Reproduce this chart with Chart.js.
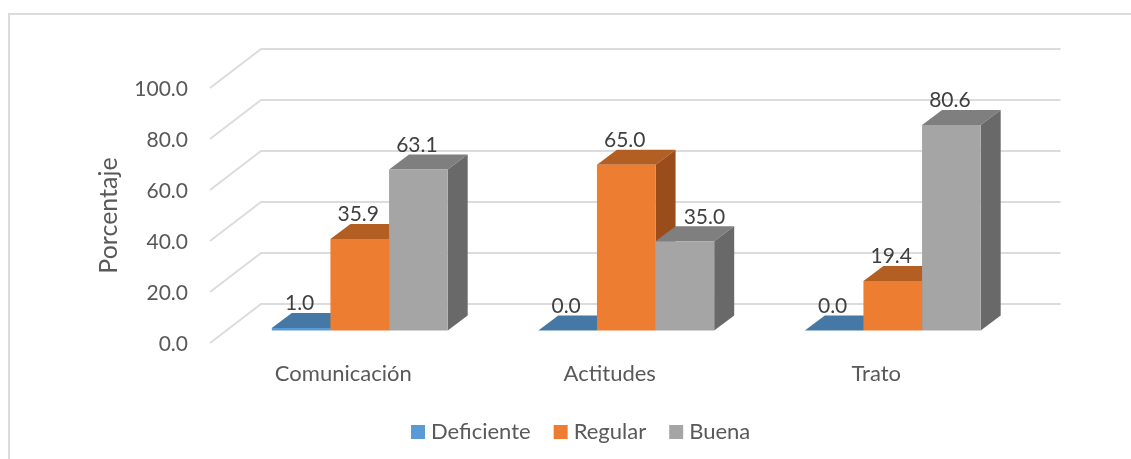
<!DOCTYPE html>
<html>
<head>
<meta charset="utf-8">
<title>Porcentaje</title>
<script src="https://cdn.jsdelivr.net/npm/chart.js@4"></script>
<style>
  html, body { margin: 0; padding: 0; background: #fff; }
  #wrap { position: relative; width: 1131px; height: 459px; overflow: hidden; }
  #marco { position: absolute; left: 8px; top: 13px; width: 1140px; height: 470px; border: 2px solid #dcdcdc; box-sizing: border-box; }
  canvas { position: absolute; left: 0; top: 0; }
</style>
</head>
<body>
<div id="wrap">
  <div id="marco"></div>
  <canvas id="grafico" width="1131" height="459"></canvas>
</div>
<script>
const categorias = ["Comunicación", "Actitudes", "Trato"];
const deficiente = [1.0, 0.0, 0.0];
const regular = [35.9, 65.0, 19.4];
const buena = [63.1, 35.0, 80.6];
const ticksY = [0, 20, 40, 60, 80, 100];

const fuente = "Lato, 'Open Sans', sans-serif";

// caras de cada serie: [frente, arriba, costado]
const colores = [
  ["#5B9BD5", "#4578A5", "#3A668E"],
  ["#ED7D31", "#B35F24", "#9A4D1B"],
  ["#A5A5A5", "#7F7F7F", "#696969"]
];

// desplazamiento de la pared del fondo y de las barras respecto al plano frontal
const pared = { dx: 51, dy: -39 };
const plano = { dx: 16.5, dy: -12.5 };
const fondoBarra = { dx: 20, dy: -15 };

function cara(ctx, puntos, color) {
  ctx.fillStyle = color;
  ctx.beginPath();
  puntos.forEach((p, i) => i ? ctx.lineTo(p[0], p[1]) : ctx.moveTo(p[0], p[1]));
  ctx.closePath();
  ctx.fill();
}

const rejilla3d = {
  id: "rejilla3d",
  beforeDatasetsDraw(chart) {
    const { ctx, scales: { x, y } } = chart;
    ctx.save();
    ctx.strokeStyle = "#dcdcdc";
    ctx.lineWidth = 2;
    y.ticks.forEach(t => {
      const py = y.getPixelForValue(t.value);
      ctx.beginPath();
      ctx.moveTo(x.left, py);
      ctx.lineTo(x.left + pared.dx, py + pared.dy);
      ctx.lineTo(x.right + pared.dx, py + pared.dy);
      ctx.stroke();
    });
    ctx.restore();
  }
};

const barras3d = {
  id: "barras3d",
  // techos y costados primero; los frentes de la librería quedan encima
  beforeDatasetsDraw(chart) {
    const { ctx } = chart;
    ctx.save();
    ctx.translate(plano.dx, plano.dy);
    chart.data.datasets.forEach((ds, i) => {
      const c = colores[i];
      const d = fondoBarra;
      chart.getDatasetMeta(i).data.forEach(b => {
        const izq = b.x - b.width / 2, der = b.x + b.width / 2;
        cara(ctx, [[izq, b.y], [der, b.y], [der + d.dx, b.y + d.dy], [izq + d.dx, b.y + d.dy]], c[1]);
        cara(ctx, [[der, b.y], [der, b.base], [der + d.dx, b.base + d.dy], [der + d.dx, b.y + d.dy]], c[2]);
      });
    });
    ctx.restore();
  },
  beforeDatasetDraw(chart) {
    chart.ctx.save();
    chart.ctx.translate(plano.dx, plano.dy);
  },
  afterDatasetDraw(chart) {
    chart.ctx.restore();
  },
  afterDatasetsDraw(chart) {
    const { ctx } = chart;
    ctx.save();
    ctx.font = "21px " + fuente;
    ctx.fillStyle = "#404040";
    ctx.textAlign = "center";
    ctx.textBaseline = "middle";
    chart.data.datasets.forEach((ds, i) => {
      chart.getDatasetMeta(i).data.forEach((b, j) => {
        // la etiqueta 35.0 va corrida para no pisar el costado naranja
        const corrida = i === 2 && j === 1 ? 21 : 0;
        ctx.fillText(ds.data[j].toFixed(1), b.x + plano.dx - 1.5 + corrida, b.y + plano.dy - 24.5);
      });
    });
    ctx.restore();
  }
};

// leyenda con el cuadro pegado al texto
const leyenda = {
  id: "leyenda",
  afterDraw(chart) {
    const { ctx } = chart;
    ctx.save();
    ctx.font = "22px " + fuente;
    ctx.textBaseline = "middle";
    let px = 411;
    chart.data.datasets.forEach(ds => {
      ctx.fillStyle = ds.backgroundColor;
      ctx.fillRect(px, 425, 14, 14);
      ctx.fillStyle = "#595959";
      ctx.fillText(ds.label, px + 20, 432);
      px += 20 + ctx.measureText(ds.label).width + 23;
    });
    ctx.restore();
  }
};

const series = [
  { label: "Deficiente", data: deficiente },
  { label: "Regular", data: regular },
  { label: "Buena", data: buena }
];
series.forEach((s, i) => {
  s.backgroundColor = colores[i][0];
  s.borderWidth = 0;
  s.clip = false;
  s.categoryPercentage = 0.66;
  s.barPercentage = 1;
});

new Chart(document.getElementById("grafico"), {
  type: "bar",
  data: { labels: categorias, datasets: series },
  options: {
    responsive: false,
    animation: false,
    layout: { padding: { left: 90, top: 88, right: 121.5, bottom: 56 } },
    plugins: {
      tooltip: { enabled: false },
      legend: { display: false }
    },
    scales: {
      x: {
        grid: { display: false },
        border: { display: false },
        ticks: { color: "#595959", font: { family: fuente, size: 22 }, padding: 10, maxRotation: 0 },
        afterFit(s) { s.height = 60; }
      },
      y: {
        min: 0,
        max: 100,
        afterBuildTicks(s) { s.ticks = ticksY.map(v => ({ value: v })); },
        grid: { display: false },
        border: { display: false },
        title: { display: true, text: "Porcentaje", color: "#595959", font: { family: fuente, size: 25 } },
        ticks: { color: "#595959", font: { family: fuente, size: 21 }, padding: 14, labelOffset: 1.5, callback: v => v.toFixed(1) },
        afterFit(s) { s.width = 120; }
      }
    }
  },
  plugins: [rejilla3d, barras3d, leyenda]
});
</script>
</body>
</html>
